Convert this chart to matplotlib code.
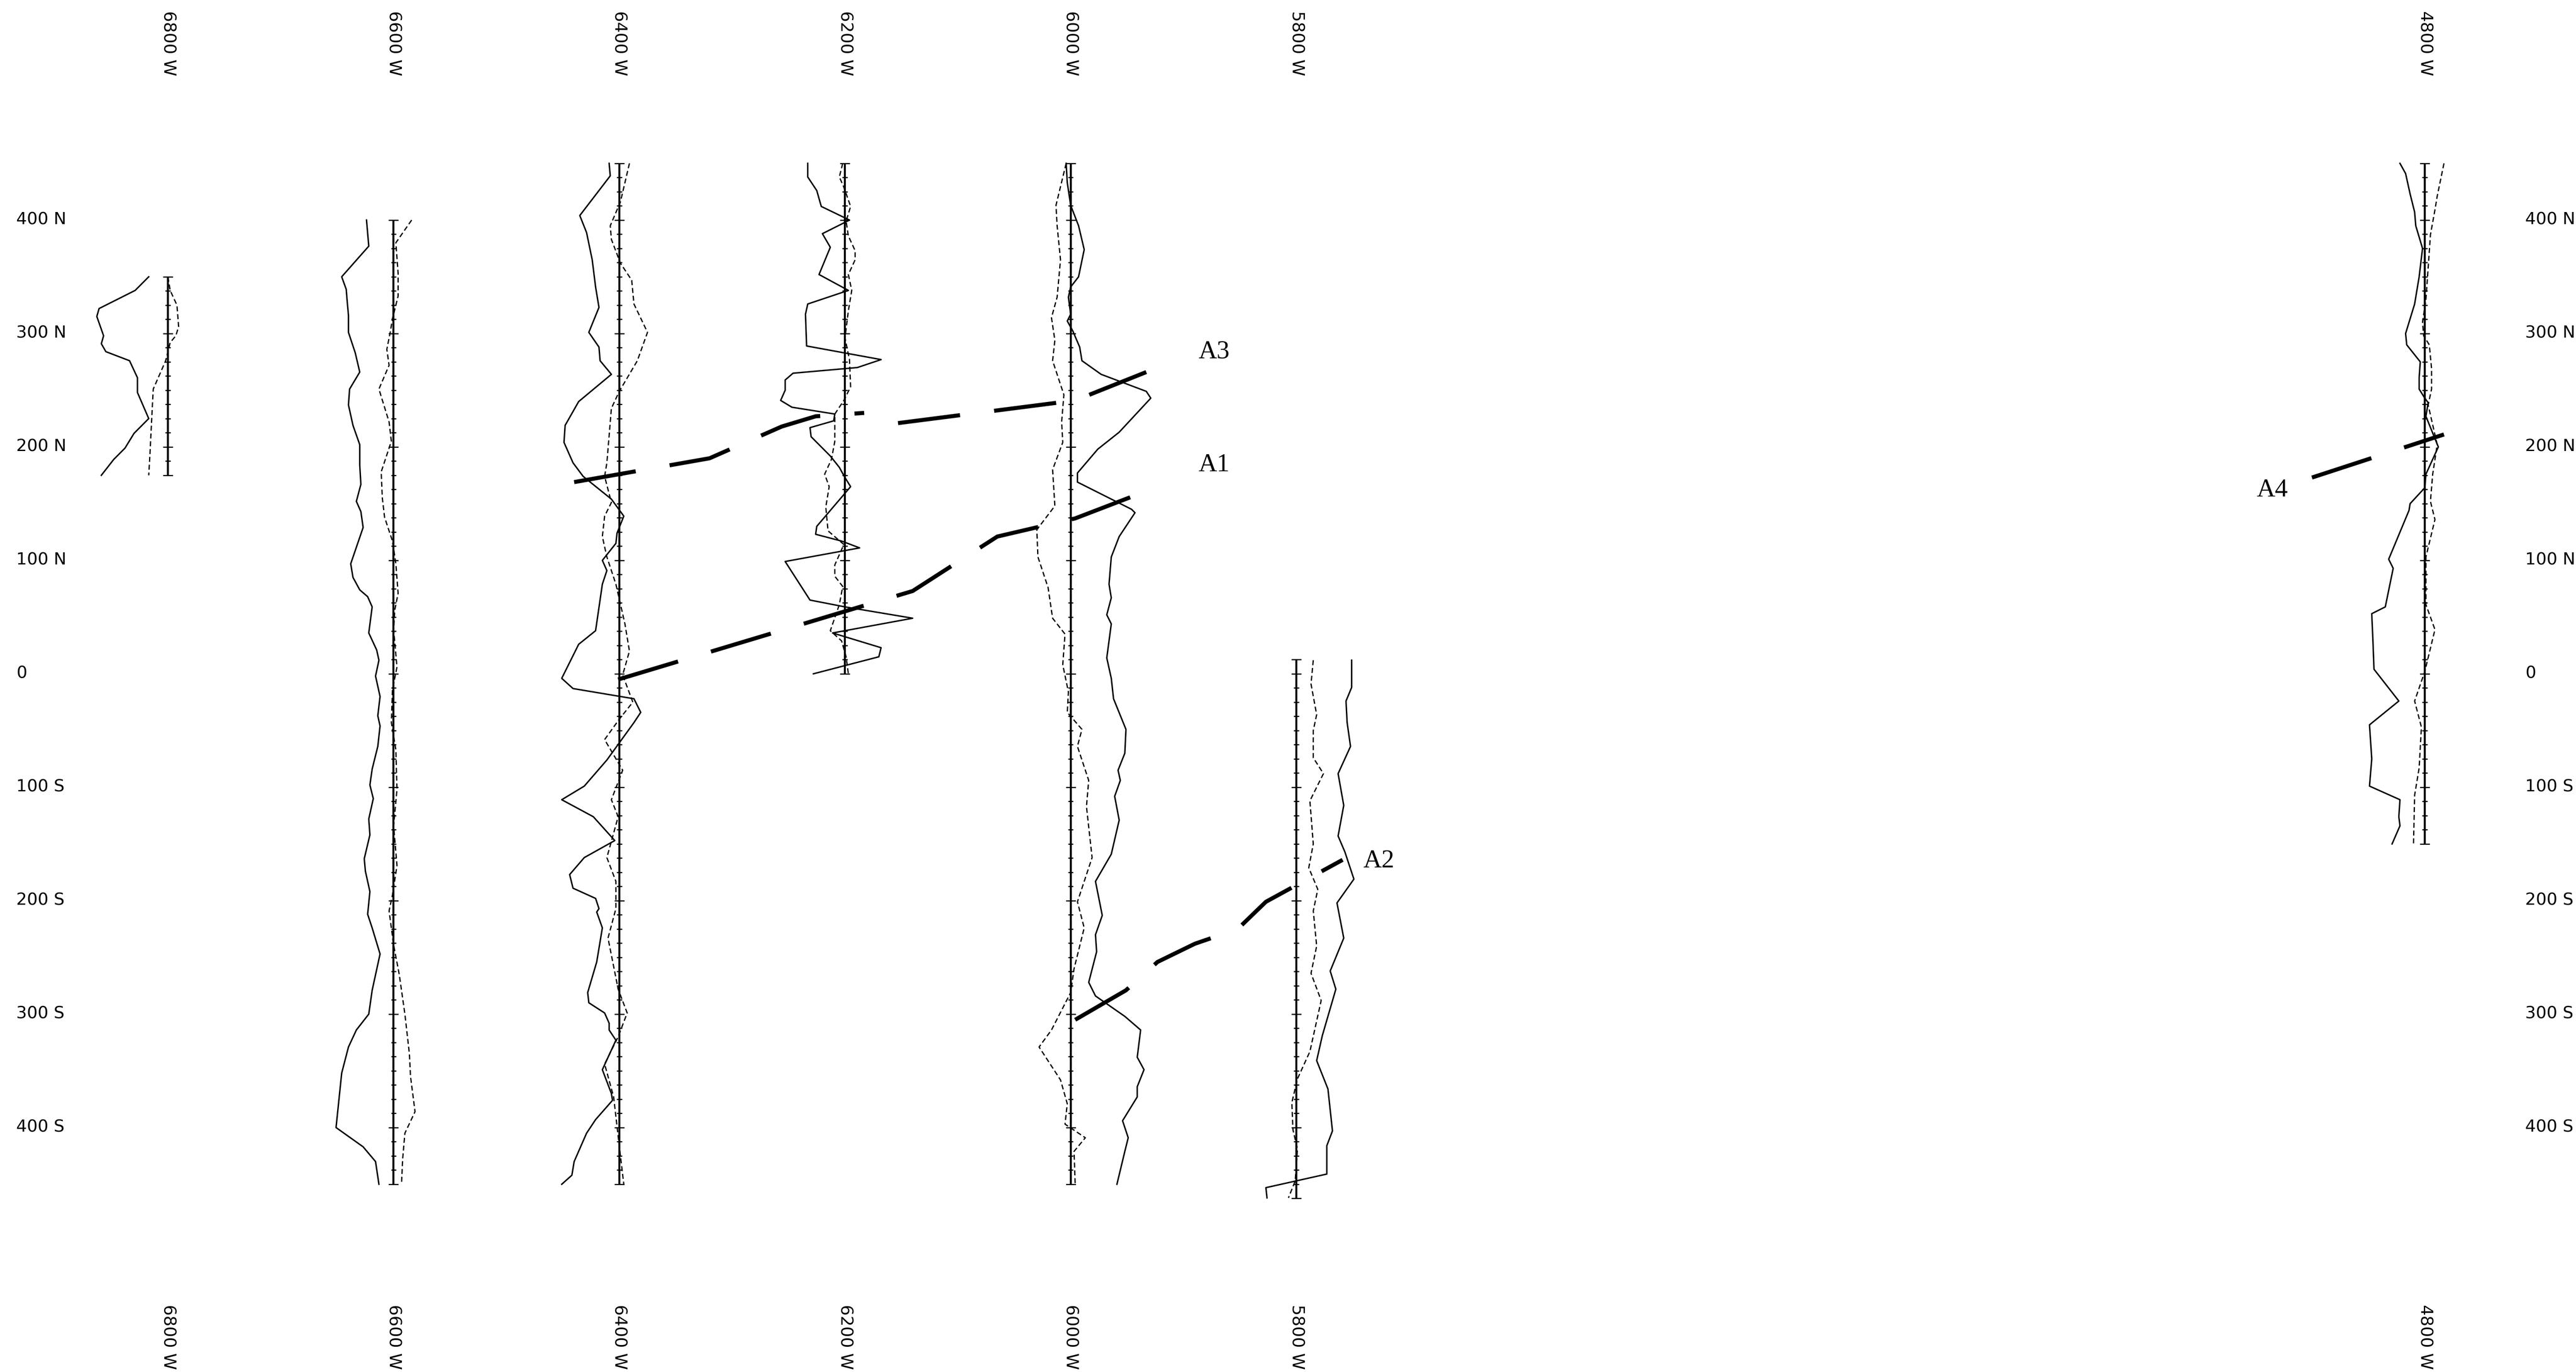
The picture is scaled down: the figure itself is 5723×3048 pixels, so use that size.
import numpy as np
import matplotlib
matplotlib.use("Agg")
import matplotlib.pyplot as plt

plt.rcParams["lines.scale_dashes"] = False
plt.rcParams["font.family"] = ["DejaVu Sans"]

# survey lines (metres west) and their north / south ends (metres, + = N)
lines_w = [6800, 6600, 6400, 6200, 6000, 5800, 4800]
line_north = [350, 400, 450, 450, 450, 12.5, 450]
line_south = [175, -450, -450, 0, -450, -462.5, -150]

northings = [400, 300, 200, 100, 0, -100, -200, -300, -400]
northing_labels = ["400 N", "300 N", "200 N", "100 N", "0",
                   "100 S", "200 S", "300 S", "400 S"]
line_labels = ["6800 W", "6600 W", "6400 W", "6200 W", "6000 W", "5800 W", "4800 W"]

# profile readings: station northing and plotted offset (m, + = east)
n6800_s = [350, 338, 322, 315, 298, 291, 284, 276, 261, 248, 225, 212, 199, 189, 175]
v6800_s = [-17, -29, -61, -63, -57, -59, -55, -34, -27, -27, -17, -30, -38, -48, -59]
n6800_d = [350, 338, 325, 306, 298, 292, 276, 251, 212, 192, 175]
v6800_d = [0, 2, 8, 9.5, 7, 2, -2, -13, -15, -16, -17]

n6600_s = [400, 377, 350, 339, 327, 316, 301, 283, 266, 251, 237, 219, 202, 184, 167,
           152, 143, 129, 97, 85, 74, 68, 59, 36, 21, 12, -2, -20, -37, -46, -64, -84,
           -98, -110, -128, -142, -163, -174, -192, -212, -224, -247, -279, -300, -314,
           -329, -352, -400, -417, -430, -450]
v6600_s = [-24, -22, -46, -42, -41, -40, -40, -34, -30, -39, -40, -36, -30, -30, -29,
           -33, -29, -27, -38, -36, -30, -23, -19, -22, -15, -13, -16, -12, -14, -12,
           -14, -19, -21, -18, -22, -21, -26, -25, -21, -23, -19, -12, -19, -22, -33,
           -40, -46, -51, -27, -16, -13]
n6600_d = [400, 380, 353, 333, 313, 301, 286, 272, 251, 222, 205, 178, 155, 138, 117,
           97, 71, 56, 39, 6, -14, -43, -67, -102, -134, -169, -195, -209, -224, -239,
           -265, -300, -335, -355, -386, -405, -428, -450]
v6600_d = [16, 2, 4, 4, -1, -3, -6, -4, -13, -4, -2, -11, -10, -8, -1, 2, 4, 1, 0, 3,
           -1, -2, 2, 3, 0, 3, -1, -4, -2, 0, 5, 10, 14, 15, 19, 10, 8, 7]

n6400_s = [450, 439, 404, 389, 365, 341, 323, 301, 288, 276, 264, 240, 219, 204, 186,
           174, 154, 139, 124, 115, 100, 91, 79, 38, 26, -4, -13, -22, -34, -43, -76,
           -99, -111, -126, -147, -162, -177, -189, -198, -207, -210, -224, -254, -281,
           -290, -299, -308, -314, -323, -349, -370, -376, -393, -405, -430, -442, -450]
v6400_s = [-9, -8, -35, -29, -24, -21, -18, -27, -18, -17, -7, -36, -48, -49, -41,
           -32, -7, 4, -2, -3, -15, -11, -15, -21, -36, -51, -41, 13, 19, 13, -11,
           -31, -51, -23, -4, -31, -44, -41, -21, -18, -20, -15, -20, -28,
           -27, -13, -9, -9, -3, -15, -7, -6, -21, -29, -40, -42, -51]
n6400_d = [450, 416, 395, 383, 362, 347, 326, 301, 276, 249, 234, 210, 186, 174, 151,
           139, 121, 103, 79, 44, 20, -1, -25, -40, -58, -85, -111, -126, -162, -183,
           -207, -233, -278, -299, -320, -344, -373, -425, -450]
v6400_d = [9, 1, -8, -7, 1, 11, 13, 25, 16, 0, -7, -9, -11, -13, -7, -13, -15, -11,
           -3, 5, 9, 3, 12, 0, -13, 3, -7, -1, -11, -3, -3, -10, -1, 7, -1, -13, -5, 1, 4]

n6200_s = [450, 438, 426, 412, 400, 388, 376, 352, 338, 326, 317, 289, 277, 270, 265,
           259, 250, 241, 235, 229, 223, 217, 209, 192, 182, 173, 165, 130, 123, 117,
           111, 99, 65, 59, 49, 36, 23, 15, 0]
v6200_s = [-33, -33, -25, -21, 4, -20, -13, -23, 3, -33, -35, -34, 32, 11, -46, -53,
           -53, -57, -47, -9, -10, -31, -30, -13, -5, 0, 5, -25, -26, -3, 13, -53, -31,
           0, 60, -11, 32, 30, -28]
n6200_d = [450, 438, 429, 412, 399, 386, 373, 365, 352, 338, 320, 296, 277, 253, 241,
           229, 205, 189, 176, 165, 147, 126, 114, 96, 86, 77, 61, 38, 29, 15, 0]
v6200_d = [-2, -5, -1, 5, 1, 3, 9, 9, 3, 6, 3, 0, 4, 5, -1, -9, -9, -12, -18, -14,
           -17, -15, -1, -9, -9, -2, -5, -13, -3, 1, 3]

n6000_s = [450, 433, 413, 395, 374, 350, 341, 332, 317, 311, 302, 288, 276, 264, 249,
           243, 213, 198, 177, 169, 157, 145, 142, 121, 103, 79, 67, 52, 44, 14, -4,
           -22, -49, -70, -85, -94, -108, -129, -159, -183, -213, -230, -245, -272,
           -284, -302, -314, -338, -349, -364, -373, -394, -409, -421, -450]
v6000_s = [-4, -3, 0, 7, 12, 7, 0, -2, 0, -3, 2, 8, 10, 27, 67, 71, 43, 24, 6, 6, 30,
           54, 57, 43, 36, 34, 36, 32, 36, 32, 36, 38, 49, 48, 42, 44, 39, 43, 36, 22,
           28, 22, 23, 16, 22, 48, 62, 59, 65, 59, 59, 46, 51, 48, 41]
n6000_d = [450, 413, 395, 365, 332, 314, 294, 276, 246, 222, 204, 180, 148, 127, 103,
           76, 49, 35, 8, -16, -34, -49, -64, -94, -117, -162, -201, -224, -260, -281,
           -314, -329, -358, -379, -397, -409, -421, -450]
v6000_d = [-4, -13, -12, -9, -12, -17, -14, -16, -6, -8, -7, -16, -14, -30, -29, -20,
           -16, -5, -7, -2, -3, 10, 6, 16, 14, 19, 6, 12, 3, 0, -17, -28, -9, -3, -5,
           13, 3, 4]

n5800_s = [12, -12, -24, -43, -64, -88, -116, -143, -157, -181, -202, -233, -262, -278,
           -319, -341, -366, -403, -416, -441, -453, -462]
v5800_s = [49, 49, 44, 45, 48, 37, 42, 37, 43, 51, 36, 42, 30, 35, 23, 18, 28, 32, 27,
           27, -27, -26]
n5800_d = [12, -9, -36, -50, -74, -88, -112, -150, -171, -190, -209, -240, -264, -288,
           -333, -357, -378, -402, -419, -447, -462]
v5800_d = [15, 13, 18, 15, 15, 24, 12, 15, 11, 19, 15, 18, 13, 22, 12, 1, -4, -3, 1,
           -1, -7]

n4800_s = [450, 441, 423, 407, 395, 375, 350, 326, 300, 290, 275, 261, 251, 243, 239,
           227, 200, 176, 164, 150, 144, 101, 93, 59, 53, 30, 4, -24, -45, -75, -99,
           -111, -126, -134, -150]
v4800_s = [-22, -17, -13, -9, -8, -2, -5, -9, -17, -16, -4, -5, -5, 0, 3, 1, 12, 1, 0,
           -13, -14, -32, -28, -35, -47, -46, -45, -23, -49, -47, -49, -22, -23, -22, -29]
n4800_d = [450, 421, 409, 387, 358, 330, 310, 298, 290, 269, 251, 237, 202, 176, 152,
           136, 103, 71, 61, 39, 2, -24, -47, -83, -107, -150]
v4800_d = [17, 11, 9, 5, 3, 1, -2, -1, 4, 6, 6, 3, 11, 7, 5, 9, 1, 1, 1, 9, 0, -9, -3,
           -5, -9, -10]

# interpreted axes (W, N); nan breaks the line
a1_w = [6401, 6140, 6065, 5996, 5920]
a1_n = [-5, 73, 121, 137, 166]
a2_w = [5996, 5951, 5923, 5890, 5852, 5827, 5759]
a2_n = [-305, -279, -254, -238, -225, -201, -164]
a3_w = [6440, 6400, 6320, 6256, 6226, 6183, np.nan, 6153, 5996, 5933]
a3_n = [169, 176, 190, 218, 227, 230, np.nan, 221, 241, 266]
a4_w = [4900, 4783]
a4_n = [173, 211]
anomaly_names = ["A1", "A2", "A3", "A4"]
anomaly_label_w = [5873, 5727, 5873, 4935]
anomaly_label_n = [184, -165, 284, 162]

fig = plt.figure(figsize=(57.23, 30.48), dpi=100)
ax = fig.add_axes([0, 0, 1, 1])
ax.set_xlim(6948.8, 4666)
ax.set_ylim(-615.5, 594)
ax.axis("off")

# baselines with station ticks
for w, top, bot in zip(lines_w, line_north, line_south):
    ax.plot([w, w], [bot, top], color="black", lw=3.2, solid_capstyle="butt")
    st = np.arange(bot, top + 0.1, 12.5)
    major = (np.isclose(st % 100, 0)) | np.isclose(st, bot) | np.isclose(st, top)
    ax.hlines(st[~major], w - 2.3, w + 2.3, color="black", lw=1.8)
    ax.hlines(st[major], w - 4.4, w + 4.4, color="black", lw=1.8)

profiles = [
    (6800, n6800_s, v6800_s, n6800_d, v6800_d),
    (6600, n6600_s, v6600_s, n6600_d, v6600_d),
    (6400, n6400_s, v6400_s, n6400_d, v6400_d),
    (6200, n6200_s, v6200_s, n6200_d, v6200_d),
    (6000, n6000_s, v6000_s, n6000_d, v6000_d),
    (5800, n5800_s, v5800_s, n5800_d, v5800_d),
    (4800, n4800_s, v4800_s, n4800_d, v4800_d),
]
for w, ns, vs, nd, vd in profiles:
    ax.plot(w - np.array(vs), ns, color="black", lw=2.3)
    ax.plot(w - np.array(vd), nd, color="black", lw=2.0, ls=(0, (8, 4.5)))

for xw, yn in [(a1_w, a1_n), (a2_w, a2_n), (a3_w, a3_n), (a4_w, a4_n)]:
    ax.plot(xw, yn, color="black", lw=6.5, ls=(0, (100, 55)), dash_capstyle="butt")

for name, xw, yn in zip(anomaly_names, anomaly_label_w, anomaly_label_n):
    ax.text(xw, yn, name, fontsize=41, family="Liberation Serif",
            ha="center", va="center")

for n, lab in zip(northings, northing_labels):
    ax.text(6934.4, n, lab, fontsize=27, ha="left", va="center")
    ax.text(4711, n, lab, fontsize=27, ha="left", va="center")

for w, lab in zip(lines_w, line_labels):
    ax.text(w, 556, lab, fontsize=27, rotation=270, ha="center", va="center")
    ax.text(w, -584.5, lab, fontsize=27, rotation=270, ha="center", va="center")

fig.savefig("out.png", dpi=100, facecolor="white")
